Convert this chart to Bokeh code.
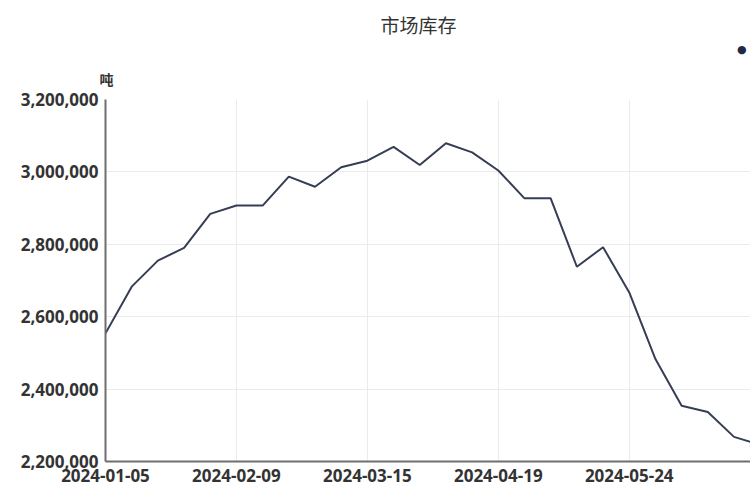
from bokeh.plotting import figure
from bokeh.models import FixedTicker, Title, NumeralTickFormatter, Range1d
from bokeh.embed import file_html
from bokeh.resources import INLINE

title_text = "市场库存"
unit_text = "吨"
dates = ["2024-01-05", "2024-01-12", "2024-01-19", "2024-01-26", "2024-02-02",
         "2024-02-09", "2024-02-16", "2024-02-23", "2024-03-01", "2024-03-08",
         "2024-03-15", "2024-03-22", "2024-03-29", "2024-04-05", "2024-04-12",
         "2024-04-19", "2024-04-26", "2024-05-03", "2024-05-10", "2024-05-17",
         "2024-05-24", "2024-05-31", "2024-06-07", "2024-06-14", "2024-06-21",
         "2024-06-28"]
inventory = [2554000, 2683000, 2755000, 2790000, 2884000,
             2907000, 2907000, 2987000, 2959000, 3013000,
             3031000, 3069000, 3019000, 3079000, 3054000,
             3004000, 2927000, 2927000, 2738000, 2792000,
             2667000, 2483000, 2354000, 2337000, 2268000,
             2246000]
y_ticks = [2200000, 2400000, 2600000, 2800000, 3000000, 3200000]

xs = list(range(len(dates)))
label_idx = list(range(0, len(dates), 5))

FONT = "Open Sans"
TXT = "#333333"

p = figure(width=750, height=500, output_backend="svg", toolbar_location=None,
           x_range=Range1d(0, 24.63), y_range=Range1d(y_ticks[0], y_ticks[-1]),
           min_border_left=105, min_border_right=0, min_border_top=99, min_border_bottom=39,
           title=None)
p.outline_line_color = None
p.background_fill_color = "white"
p.border_fill_color = "white"

p.line(xs, inventory, line_color="#363e55", line_width=2)

p.xaxis.ticker = FixedTicker(ticks=label_idx)
p.xaxis.major_label_overrides = {i: dates[i] for i in label_idx}
p.yaxis.ticker = FixedTicker(ticks=y_ticks)
p.yaxis.formatter = NumeralTickFormatter(format="0,0")

for ax in (p.xaxis[0], p.yaxis[0]):
    ax.axis_line_color = "#6e6e6e"
    ax.axis_line_width = 2
    ax.major_tick_line_color = None
    ax.minor_tick_line_color = None
    ax.major_tick_out = 0
    ax.major_tick_in = 0
    ax.major_label_text_font = FONT
    ax.major_label_text_font_size = "17px"
    ax.major_label_text_color = TXT
    ax.major_label_text_font_style = "bold"
p.xaxis.major_label_standoff = 7
p.yaxis.major_label_standoff = 7

p.xgrid.grid_line_color = "#ebebeb"
p.ygrid.grid_line_color = "#ebebeb"
p.xgrid.ticker = FixedTicker(ticks=label_idx)
p.ygrid.ticker = FixedTicker(ticks=y_ticks)

unit = Title(text=unit_text, align="left", offset=-6, standoff=21,
             text_font="Noto Sans CJK SC", text_font_size="14px",
             text_font_style="bold", text_color=TXT)
dot = Title(text="●", align="right", offset=4, standoff=2,
            text_font="DejaVu Sans", text_font_size="11px",
            text_font_style="normal", text_color="#1f2a48")
main = Title(text=title_text, align="left", offset=275, standoff=4,
             text_font="Noto Sans CJK SC", text_font_size="19px",
             text_font_style="normal", text_color=TXT)
p.add_layout(unit, "above")
p.add_layout(dot, "above")
p.add_layout(main, "above")

open("out.html", "w").write(file_html(p, INLINE))
